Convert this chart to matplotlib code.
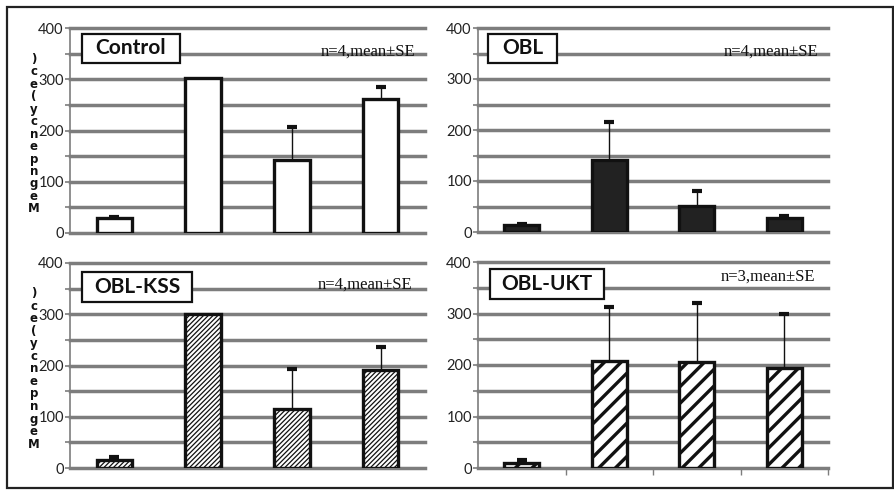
import numpy as np
import matplotlib
matplotlib.use("Agg")
from matplotlib import pyplot as plt
from matplotlib.patches import Rectangle

# data
groups = ["Control", "OBL", "OBL-KSS", "OBL-UKT"]
notes = ["n=4,mean\u00b1SE", "n=4,mean\u00b1SE", "n=4,mean\u00b1SE", "n=3,mean\u00b1SE"]
categories = [1, 2, 3, 4]
means_control = [29, 302, 142, 261]
se_control = [3, 0, 65, 24]
means_obl = [14, 142, 51, 27]
se_obl = [2, 73, 29, 4]
means_kss = [16, 301, 116, 191]
se_kss = [6, 0, 77, 46]
means_ukt = [9, 208, 206, 195]
se_ukt = [6, 105, 114, 104]
yticks = [0, 100, 200, 300, 400]
ylabel_chars = ")ce(ycnepngeM"

W, H = 894, 492
fig = plt.figure(figsize=(W / 100, H / 100), dpi=100)
fig.patch.set_facecolor("white")

def fx(px):
    return px / W

def fy(py):
    return 1 - py / H

# outer frame
fig.add_artist(Rectangle((fx(7), fy(488)), fx(893) - fx(7), fy(7) - fy(488),
                         transform=fig.transFigure, fill=False, ec="#222222", lw=1.6))

# panel layout in pixels: (left, top(400), right, bottom(0))
panels = [
    dict(rect=(70, 28, 425, 233), means=means_control, se=se_control, face="white", hatch=None,
         box=(82, 34, 180, 63), note=(415, 52), ylab=True, xticks=False),
    dict(rect=(478, 28, 828, 232), means=means_obl, se=se_obl, face="#222222", hatch=None,
         box=(488, 34, 557, 63), note=(818, 52), ylab=False, xticks=False),
    dict(rect=(70, 263, 425, 468), means=means_kss, se=se_kss, face="white", hatch="///////",
         box=(82, 272, 192, 302), note=(412, 285), ylab=True, xticks=False),
    dict(rect=(478, 262, 828, 468), means=means_ukt, se=se_ukt, face="white", hatch="//",
         box=(490, 269, 604, 299), note=(815, 277), ylab=False, xticks=True),
]
hatch_lw = [1.0, 1.0, 0.9, 2.4]

for i, p in enumerate(panels):
    l, t, r, b = p["rect"]
    ax = fig.add_axes([fx(l), fy(b), fx(r) - fx(l), fy(t) - fy(b)])
    ax.set_xlim(0.5, 4.5)
    ax.set_ylim(0, 400)
    for v in range(0, 401, 50):
        ax.axhline(v, color="#7d7d7d", lw=2.5, zorder=0, clip_on=False)
    bars = ax.bar(categories, p["means"], width=0.4, color=p["face"], edgecolor="#111111",
                  linewidth=2.4, hatch=p["hatch"], zorder=2)
    for bar in bars:
        if hasattr(bar, "set_hatch_linewidth"):
            bar.set_hatch_linewidth(hatch_lw[i])
    # upper error bars only
    tops = np.array(p["means"]) + np.array(p["se"])
    ax.vlines(categories, p["means"], tops, color="#111111", lw=1.0, zorder=3)
    show = [k for k, s in enumerate(p["se"]) if s > 0]
    ax.scatter([categories[k] for k in show], tops[show], marker="_", s=60,
               linewidths=3, color="#111111", zorder=4)
    for s in ["top", "right", "bottom"]:
        ax.spines[s].set_visible(False)
    ax.spines["left"].set_color("#7d7d7d")
    ax.spines["left"].set_linewidth(1.2)
    ax.set_yticks(yticks)
    ax.set_yticks(range(50, 400, 100), minor=True)
    ax.tick_params(axis="y", which="both", direction="inout", length=7, width=1.2,
                   color="#7d7d7d", labelsize=10.5, labelcolor="#222222", pad=1)
    for lab in ax.get_yticklabels():
        lab.set_fontfamily("Lato")
    if p["xticks"]:
        ax.set_xticks([1.5, 2.5, 3.5, 4.5])
        ax.set_xticklabels([])
        ax.tick_params(axis="x", direction="out", length=5, color="#7d7d7d", width=1)
    else:
        ax.set_xticks([])

    bx0, by0, bx1, by1 = p["box"]
    fig.add_artist(Rectangle((fx(bx0), fy(by1)), fx(bx1) - fx(bx0), fy(by0) - fy(by1),
                             transform=fig.transFigure, facecolor="white", edgecolor="#111111",
                             lw=1.6, zorder=5))
    fig.text(fx((bx0 + bx1) / 2), fy((by0 + by1) / 2), groups[i], ha="center", va="center",
             fontsize=15, fontweight="bold", family="Lato", color="#111111", zorder=6)
    nx, ny = p["note"]
    fig.text(fx(nx), fy(ny), notes[i], ha="right", va="center", fontsize=12,
             family="Liberation Serif", color="#111111")
    if p["ylab"]:
        # stacked (garbled) axis label characters as one text
        fig.text(fx(34), fy(t + 106), "\n".join(ylabel_chars), ha="center", va="center",
                 multialignment="center", fontsize=8.5, linespacing=0.95,
                 fontweight="bold", family="DejaVu Sans", color="#111111", zorder=7)

fig.savefig("out.png", dpi=100)
